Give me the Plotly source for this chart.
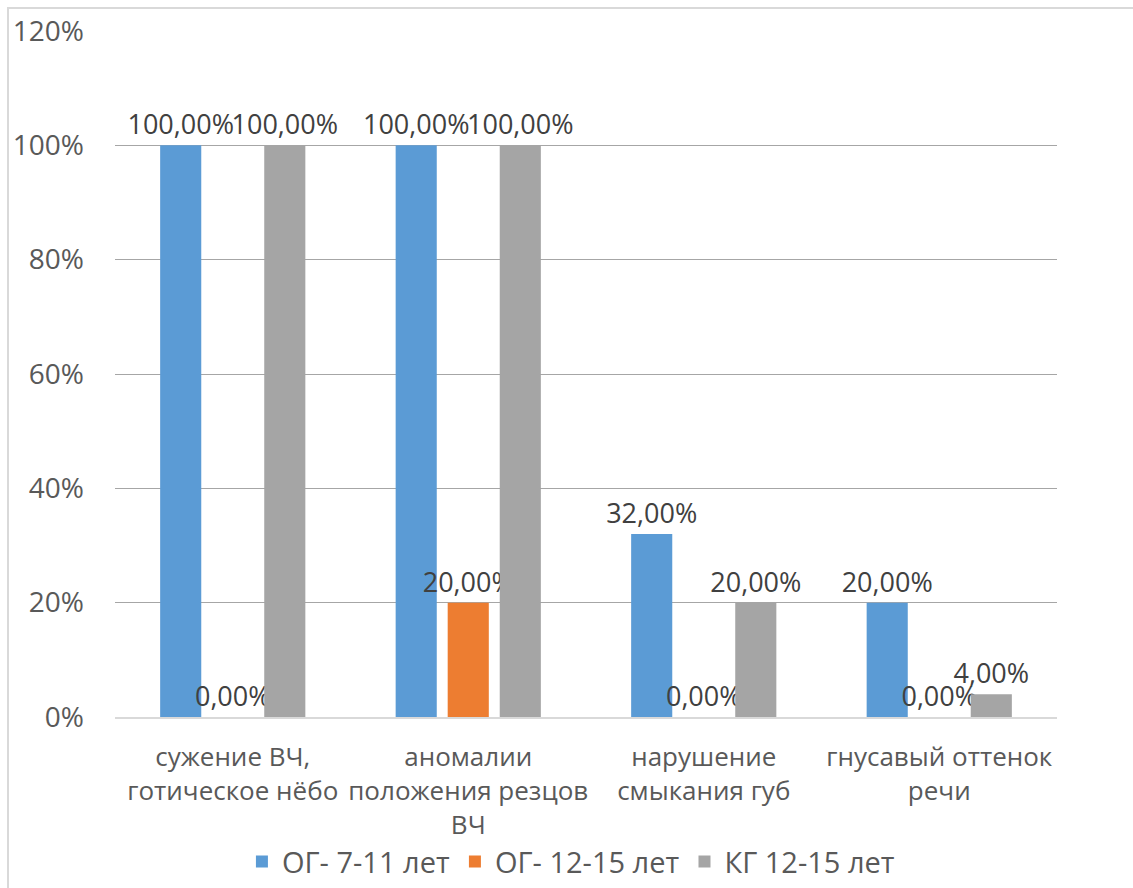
import plotly.graph_objects as go

categories = ["сужение ВЧ,<br>готическое нёбо", "аномалии<br>положения резцов<br>ВЧ",
              "нарушение<br>смыкания губ", "гнусавый оттенок<br>речи"]
series_names = ["ОГ- 7-11 лет", "ОГ- 12-15 лет", "КГ 12-15 лет"]
og_7_11 = [100, 100, 32, 20]
og_12_15 = [0, 20, 0, 0]
kg_12_15 = [100, 100, 20, 4]
colors = ["#5B9BD5", "#ED7D31", "#A5A5A5"]
y_ticks = [0, 20, 40, 60, 80, 100, 120]

FONT = "Open Sans"
TXT = "#595959"

def fmt(v):
    return f"{v:.2f}%".replace(".", ",")

fig = go.Figure()
for name, vals, col in zip(series_names, [og_7_11, og_12_15, kg_12_15], colors):
    fig.add_trace(go.Bar(
        x=categories, y=vals, name=name, marker_color=col, marker_line_width=0,
        text=[fmt(v) for v in vals], textposition="outside", textangle=0,
        constraintext="none", cliponaxis=False,
        textfont=dict(family=FONT, size=27, color="#404040"),
    ))

fig.update_layout(
    width=1133, height=888,
    margin=dict(l=115, r=76, t=31, b=171, autoexpand=False),
    paper_bgcolor="white", plot_bgcolor="white",
    barmode="group", bargap=0.337, bargroupgap=0.21,
    font=dict(family=FONT, color=TXT),
    showlegend=True,
    legend=dict(orientation="h", x=0.484, xanchor="center", y=-0.211, yanchor="middle",
                font=dict(family=FONT, size=29, color=TXT), itemwidth=30,
                traceorder="normal"),
    xaxis=dict(showgrid=False, showline=True, linecolor="#D9D9D9", linewidth=2,
               ticks="", automargin=False, ticklabelstandoff=16, tickangle=0,
               tickfont=dict(family=FONT, size=26, color=TXT)),
    yaxis=dict(range=[0, 120], tickvals=y_ticks, ticktext=[f"{t}%" for t in y_ticks],
               showgrid=True, gridcolor="#A6A6A6", gridwidth=1, zeroline=False,
               showline=False, ticks="", ticklabelstandoff=30, automargin=False,
               tickfont=dict(family=FONT, size=28, color=TXT)),
    shapes=[dict(type="rect", xref="paper", yref="paper", x0=-0.1136, x1=1.3,
                 y0=-0.5, y1=1.0335, line=dict(color="#D9D9D9", width=2),
                 fillcolor="rgba(0,0,0,0)", layer="below")],
)

fig.write_html("out.html")
